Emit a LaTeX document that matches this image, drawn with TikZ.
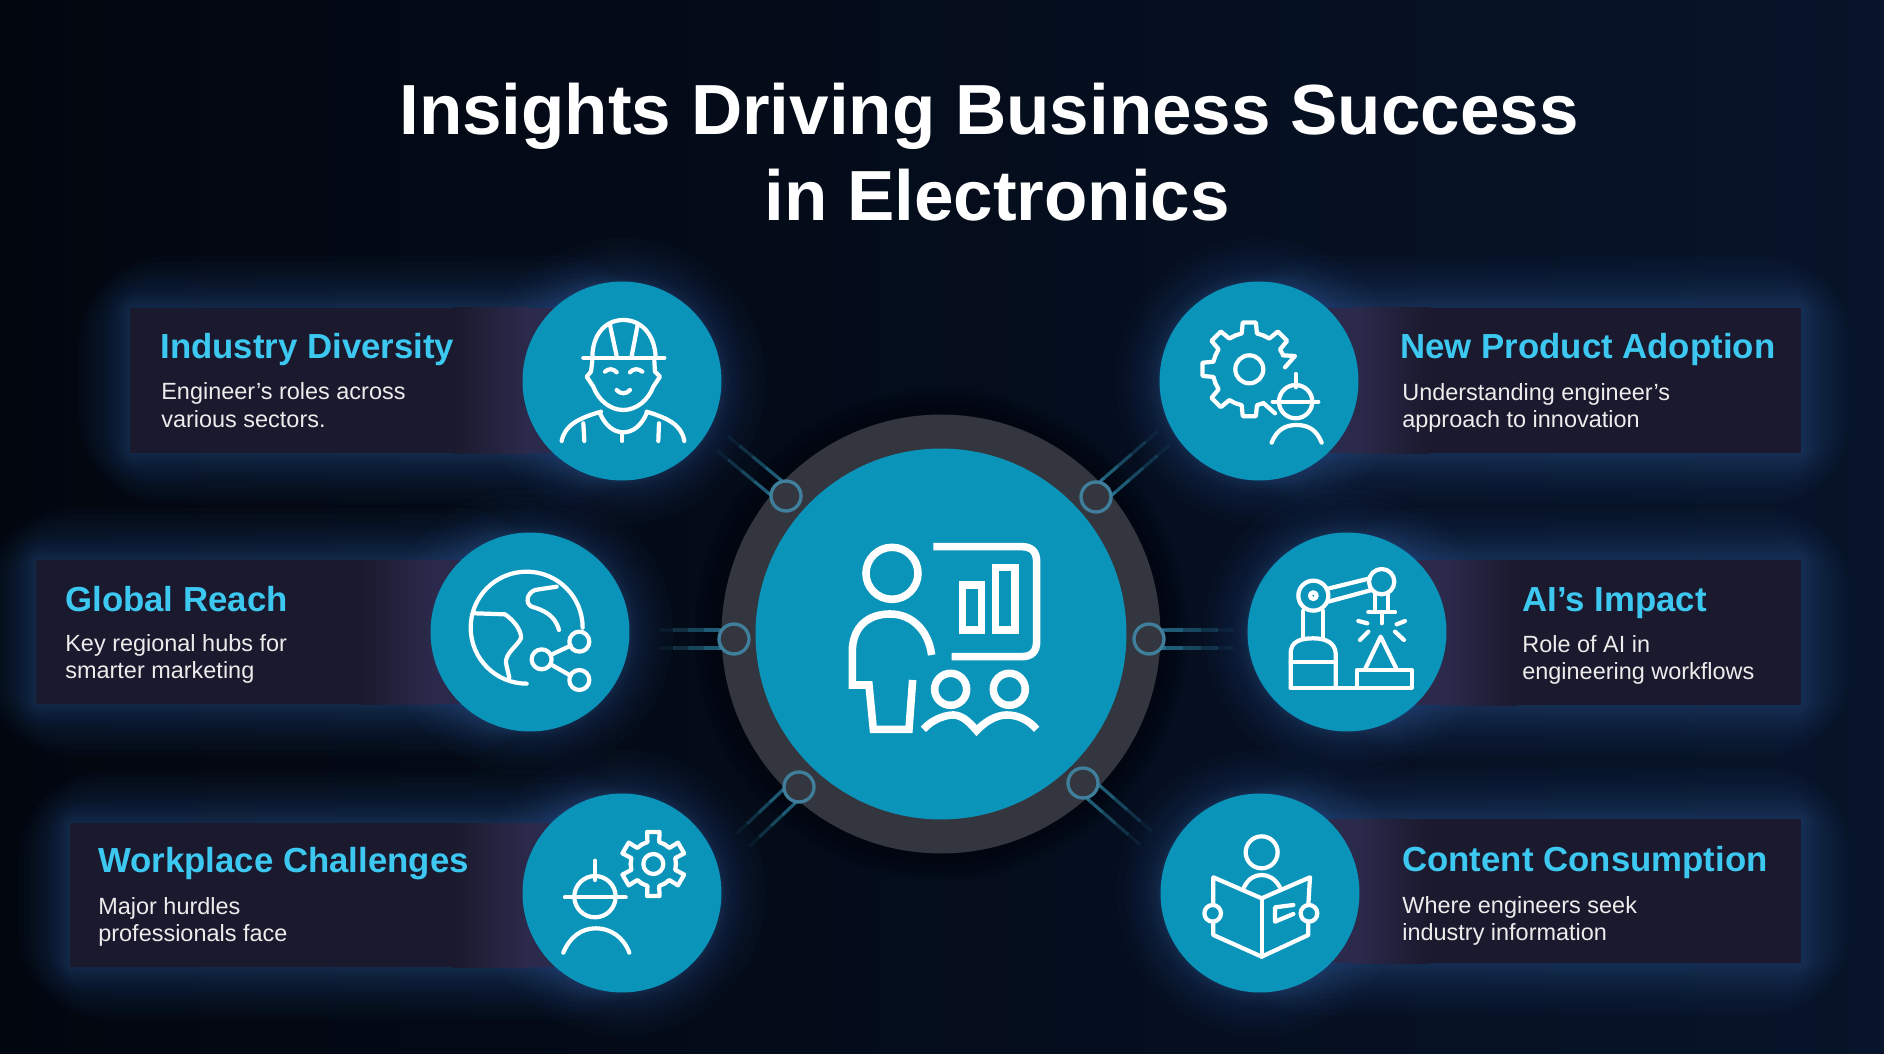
\documentclass[tikz,border=0pt]{standalone}
\usepackage{fontspec}
\usepackage[]{xcolor}
\setmainfont{Liberation Sans}
\usetikzlibrary{calc}
\usetikzlibrary{positioning}
\definecolor{bgleft}{HTML}{02060F}
\definecolor{bgmid}{HTML}{040A17}
\definecolor{bgright}{HTML}{071429}
\definecolor{tealc}{HTML}{0B94B9}
\definecolor{ringc}{HTML}{33363E}
\definecolor{boxdark}{HTML}{1A192D}
\definecolor{boxlight}{HTML}{2C2A4C}
\definecolor{glowc}{HTML}{34619F}
\definecolor{headc}{HTML}{3CC8F0}
\definecolor{bodyc}{HTML}{ECECEC}
\definecolor{dotc}{HTML}{3F7F9B}
\definecolor{linkc}{HTML}{2A7F9F}
\tikzset{spot/.style = {fill = tealc, circle, inner sep = 0, minimum size = 3.98cm}}
\tikzset{dotnode/.style = {fill = ringc, draw = dotc, line width = 1.9pt, circle, inner sep = 0, minimum size = .6cm}}
\tikzset{glow/.style = {fill = glowc, opacity = .034}}
\tikzset{linkline/.style = {draw = linkc, line width = 1.8pt}}
\tikzset{iconline/.style = {draw = white, line width = 2.4pt, line cap = round, line join = round}}
\tikzset{bigline/.style = {draw = white, line width = 4.3pt, line join = miter}}
\tikzset{headtext/.style = {anchor = west, inner sep = 0, text = headc, font = \fontsize{19.8}{24}\selectfont\bfseries}}
\tikzset{bodytext/.style = {anchor = west, inner sep = 0, align = left, text = bodyc, font = \fontsize{13.35}{15.65}\selectfont}}
\tikzset{titletext/.style = {inner sep = 0, text = white, font = \fontsize{40.4}{46}\selectfont\bfseries}}
\tikzset{zoomed/.style = {shift = {#1}, scale = .3333}}
\newcommand{\glowrect}[4]{\foreach \g in {2,4,6,8,10,13,16,19,22,26,30,35,40,46,52} {\fill [glow, rounded corners = \g pt] (#1-\g,#2-\g) rectangle (#3+\g,#4+\g);}}
\newcommand{\glowround}[3]{\foreach \g in {1,2,3,4,6,8,10,13,16,20,25,30,36,44} {\fill [glow] (#1,#2) circle (#3+\g);}}
\newcommand{\linkpair}[2]{\foreach \s in {-1,1} {\foreach \t/\o in {0/.85,.2/.7,.4/.5,.6/.3,.78/.12} {\pgfmathsetmacro{\u}{\t+.2}\draw [linkline, opacity = \o] ($($(#1)!\t!(#2)$)!\s*.18cm!90:(#2)$) -- ($($(#1)!\u!(#2)$)!\s*.18cm!90:(#2)$);}}}
\newcommand{\gearteeth}[6]{\begin{scope}[shift = {#1}]\foreach \a in {#4} {\draw [iconline] (\a-#5:#2) -- (\a-#6-4:#2) -- (\a-#6:#3) -- (\a+#6:#3) -- (\a+#6+4:#2) -- (\a+#5:#2);}\end{scope}}
\newcommand{\panelleft}[5]{\fill [boxdark] (#1,#2) rectangle (#5-70,#4); \shade [left color = boxdark, right color = boxlight] (#5-70,#2) rectangle (#5+5,#4); \fill [boxlight] (#5+5,#2) rectangle (#3,#4);}
\newcommand{\panelright}[5]{\fill [boxdark] (#5+70,#2) rectangle (#3,#4); \shade [left color = boxlight, right color = boxdark] (#5-5,#2) rectangle (#5+70,#4); \fill [boxlight] (#1,#2) rectangle (#5-5,#4);}
\begin{document}
\begin{tikzpicture}[x = .02cm, y = .02cm, yscale = -1]
    \useasboundingbox (0,0) rectangle (1884,1054);
    \shade [left color = bgleft, middle color = bgmid, right color = bgright] (0,0) rectangle (1884,1054);
    \glowrect{130}{308}{600}{453}
    \glowrect{36}{560}{500}{704}
    \glowrect{70}{823}{600}{967}
    \glowrect{1280}{308}{1801}{453}
    \glowrect{1380}{560}{1801}{705}
    \glowrect{1280}{819}{1801}{963}
    \glowround{622}{381}{99}
    \glowround{530}{632}{99}
    \glowround{622}{893}{99}
    \glowround{1259}{381}{99}
    \glowround{1347}{632}{99}
    \glowround{1260}{893}{99}
    \panelleft{130}{308}{600}{453}{523}
    \panelleft{36}{560}{500}{704}{430}
    \panelleft{70}{823}{600}{967}{523}
    \panelright{1280}{308}{1801}{453}{1359}
    \panelright{1380}{560}{1801}{705}{1447}
    \panelright{1280}{819}{1801}{963}{1359}
    \foreach \g in {3,6,...,30} {\fill [fill = bgleft, opacity = .12] (941,634) circle (250-\g);}
    \node [fill = ringc, circle, inner sep = 0, minimum size = 8.78cm] (ring) at (941,634) {};
    \node [fill = tealc, circle, inner sep = 0, minimum size = 7.42cm] (hub) at (941,634) {};
    \coordinate (tlend) at (721,442);
    \coordinate (mlend) at (658,639);
    \coordinate (blend) at (742,841);
    \coordinate (trend) at (1165,437);
    \coordinate (mrend) at (1235,639);
    \coordinate (brend) at (1147,839);
    \coordinate (tlmid) at (786,496);
    \coordinate (mlmid) at (734,639);
    \coordinate (blmid) at (799,787);
    \coordinate (trmid) at (1096,497);
    \coordinate (mrmid) at (1149,639);
    \coordinate (brmid) at (1083,783);
    \linkpair{tlmid}{tlend}
    \linkpair{mlmid}{mlend}
    \linkpair{blmid}{blend}
    \linkpair{trmid}{trend}
    \linkpair{mrmid}{mrend}
    \linkpair{brmid}{brend}
    \node [dotnode] (tldot) at (tlmid) {};
    \node [dotnode] (mldot) at (mlmid) {};
    \node [dotnode] (bldot) at (blmid) {};
    \node [dotnode] (trdot) at (trmid) {};
    \node [dotnode] (mrdot) at (mrmid) {};
    \node [dotnode] (brdot) at (brmid) {};
    \node [spot] (diversity) at (622,381) {};
    \node [spot] (reach) at (530,632) {};
    \node [spot] (challenges) at (622,893) {};
    \node [spot] (adoption) at (1259,381) {};
    \node [spot] (impact) at (1347,632) {};
    \node [spot] (consumption) at (1260,893) {};
    \node [titletext] (title) at (989,116) {Insights Driving Business Success};
    \node [titletext] (titleb) at (997,195) {in Electronics};
    \node [headtext] (diversityh) at (160,350) {Industry Diversity};
    \node [bodytext] (diversityb) at (161,405) {Engineer’s roles across\\various sectors.};
    \node [headtext] (reachh) at (65,599) {Global Reach};
    \node [bodytext] (reachb) at (65,659) {Key regional hubs for\\smarter marketing};
    \node [headtext] (challengesh) at (98,864) {Workplace Challenges};
    \node [bodytext] (challengesb) at (98,922) {Major hurdles\\professionals face};
    \node [headtext] (adoptionh) at (1400,350) {New Product Adoption};
    \node [bodytext] (adoptionb) at (1402,408) {Understanding engineer’s\\approach to innovation};
    \node [headtext] (impacth) at (1522,603) {AI’s Impact};
    \node [bodytext] (impactb) at (1522,660) {Role of AI in\\engineering workflows};
    \node [headtext] (consumptionh) at (1402,863) {Content Consumption};
    \node [bodytext] (consumptionb) at (1402,921) {Where engineers seek\\industry information};
    \begin{scope}[zoomed = {(720,410)}]
        \draw [bigline] (516,490) circle (78);
        \draw [bigline] (635,735) .. controls (625,660) and (575,612) .. (510,612) .. controls (445,612) and (397,650) .. (397,725) -- (397,825) -- (447,825) -- (460,958) -- (567,958) -- (578,810);
        \draw [bigline] (640,410) -- (905,410) .. controls (935,410) and (950,425) .. (950,455) -- (950,695) .. controls (950,725) and (935,740) .. (905,740) -- (695,740);
        \draw [bigline] (727,525) rectangle (785,660);
        \draw [bigline] (827,472) rectangle (885,660);
        \draw [bigline] (692,838) circle (48);
        \draw [bigline] (868,838) circle (48);
        \draw [bigline] (610,958) .. controls (640,925) and (680,915) .. (700,915) .. controls (730,915) and (755,945) .. (770,962) .. controls (790,940) and (825,915) .. (860,915) .. controls (900,915) and (930,935) .. (950,958);
    \end{scope}
    \begin{scope}[zoomed = {(515,275)}]
        \draw [iconline] (205,248) -- (448,248);
        \draw [iconline] (232,248) .. controls (232,180) and (270,135) .. (325,135) .. controls (380,135) and (420,180) .. (422,248);
        \draw [iconline] (285,150) -- (305,243);
        \draw [iconline] (368,150) -- (350,243);
        \draw [iconline] (232,258) -- (228,290) -- (215,305) -- (235,335) .. controls (250,375) and (285,405) .. (325,405) .. controls (365,405) and (400,375) .. (415,335) -- (435,305) -- (420,290) -- (418,258);
        \draw [iconline] (270,290) .. controls (280,280) and (295,280) .. (305,292);
        \draw [iconline] (345,292) .. controls (355,280) and (370,280) .. (382,290);
        \draw [iconline] (305,345) .. controls (315,358) and (335,358) .. (345,345);
        \draw [iconline] (255,415) .. controls (270,450) and (295,472) .. (325,472) .. controls (355,472) and (380,450) .. (395,415);
        \draw [iconline] (140,498) .. controls (150,450) and (190,430) .. (258,410);
        \draw [iconline] (395,410) .. controls (460,430) and (500,450) .. (508,498);
        \draw [iconline] (205,445) -- (208,498);
        \draw [iconline] (432,445) -- (430,498);
        \draw [iconline] (322,472) -- (322,498);
    \end{scope}
    \begin{scope}[zoomed = {(420,525)}]
        \draw [iconline] (488,308) arc (0:-270:168);
        \draw [iconline] (165,265) -- (255,268) .. controls (280,285) and (305,315) .. (303,340) .. controls (290,365) and (255,385) .. (258,415) -- (268,458);
        \draw [iconline] (410,185) -- (345,195) .. controls (320,205) and (315,235) .. (335,245) .. controls (370,255) and (405,270) .. (417,315);
        \draw [iconline] (365,403) circle (30);
        \draw [iconline] (478,350) circle (30);
        \draw [iconline] (478,465) circle (30);
        \draw [iconline] (392,390) -- (452,362);
        \draw [iconline] (392,418) -- (452,452);
    \end{scope}
    \begin{scope}[zoomed = {(520,790)}]
        \draw [iconline] (400,222) circle (30);
        \gearteeth{(400,222)}{68}{98}{270,330,30,90,150,210}{30}{11}
        \draw [iconline] (225,320) circle (62);
        \draw [iconline] (135,322) -- (317,322);
        \draw [iconline] (225,212) -- (225,270);
        \draw [iconline] (130,488) .. controls (150,440) and (185,415) .. (228,415) .. controls (270,415) and (310,440) .. (328,488);
    \end{scope}
    \begin{scope}[zoomed = {(1150,270)}]
        \draw [iconline] (298,298) circle (42);
        \gearteeth{(298,298)}{110}{142}{90,135,180,225,270,315}{22.5}{8}
        \draw [iconline] (399,256) -- (435,258) -- (405,292);
        \draw [iconline] (340,399) -- (375,430);
        \draw [iconline] (437,395) circle (50);
        \draw [iconline] (368,395) -- (505,395);
        \draw [iconline] (437,312) -- (437,352);
        \draw [iconline] (365,518) .. controls (380,480) and (405,465) .. (440,465) .. controls (475,465) and (500,480) .. (515,518);
    \end{scope}
    \begin{scope}[zoomed = {(1240,525)}]
        \draw [iconline] (152,488) -- (152,385) .. controls (152,350) and (180,340) .. (220,340) .. controls (260,340) and (285,355) .. (287,385) -- (287,488);
        \draw [iconline] (152,410) -- (287,410);
        \draw [iconline] (152,488) -- (515,488) -- (515,435) -- (350,435) -- (350,488);
        \draw [iconline] (375,433) -- (422,335) -- (470,433);
        \draw [iconline] (220,212) circle (45);
        \draw [iconline] (220,212) circle (10);
        \draw [iconline] (268,190) -- (390,160);
        \draw [iconline] (265,230) -- (395,195);
        \draw [iconline] (190,258) -- (190,340);
        \draw [iconline] (250,258) -- (250,340);
        \draw [iconline] (425,170) circle (38);
        \draw [iconline] (405,208) -- (405,258);
        \draw [iconline] (445,208) -- (445,258);
        \draw [iconline] (385,262) -- (465,262);
        \draw [iconline] (425,262) -- (425,295);
        \draw [iconline] (355,288) -- (382,295);
        \draw [iconline] (360,345) -- (385,320);
        \draw [iconline] (470,298) -- (495,288);
        \draw [iconline] (465,320) -- (492,345);
    \end{scope}
    \begin{scope}[zoomed = {(1160,790)}]
        \draw [iconline] (305,187) circle (48);
        \draw [iconline] (252,292) .. controls (265,265) and (285,255) .. (305,255) .. controls (325,255) and (345,265) .. (360,292);
        \draw [iconline] (160,345) -- (160,262) -- (305,325) -- (450,262) -- (445,345);
        \draw [iconline] (160,395) -- (160,435) -- (305,500) -- (445,435) -- (445,395);
        \draw [iconline] (305,325) -- (305,500);
        \draw [iconline] (158,370) circle (25);
        \draw [iconline] (447,370) circle (25);
        \draw [iconline] (400,345) -- (345,352) -- (345,395) -- (400,372);
    \end{scope}
\end{tikzpicture}
\end{document}
